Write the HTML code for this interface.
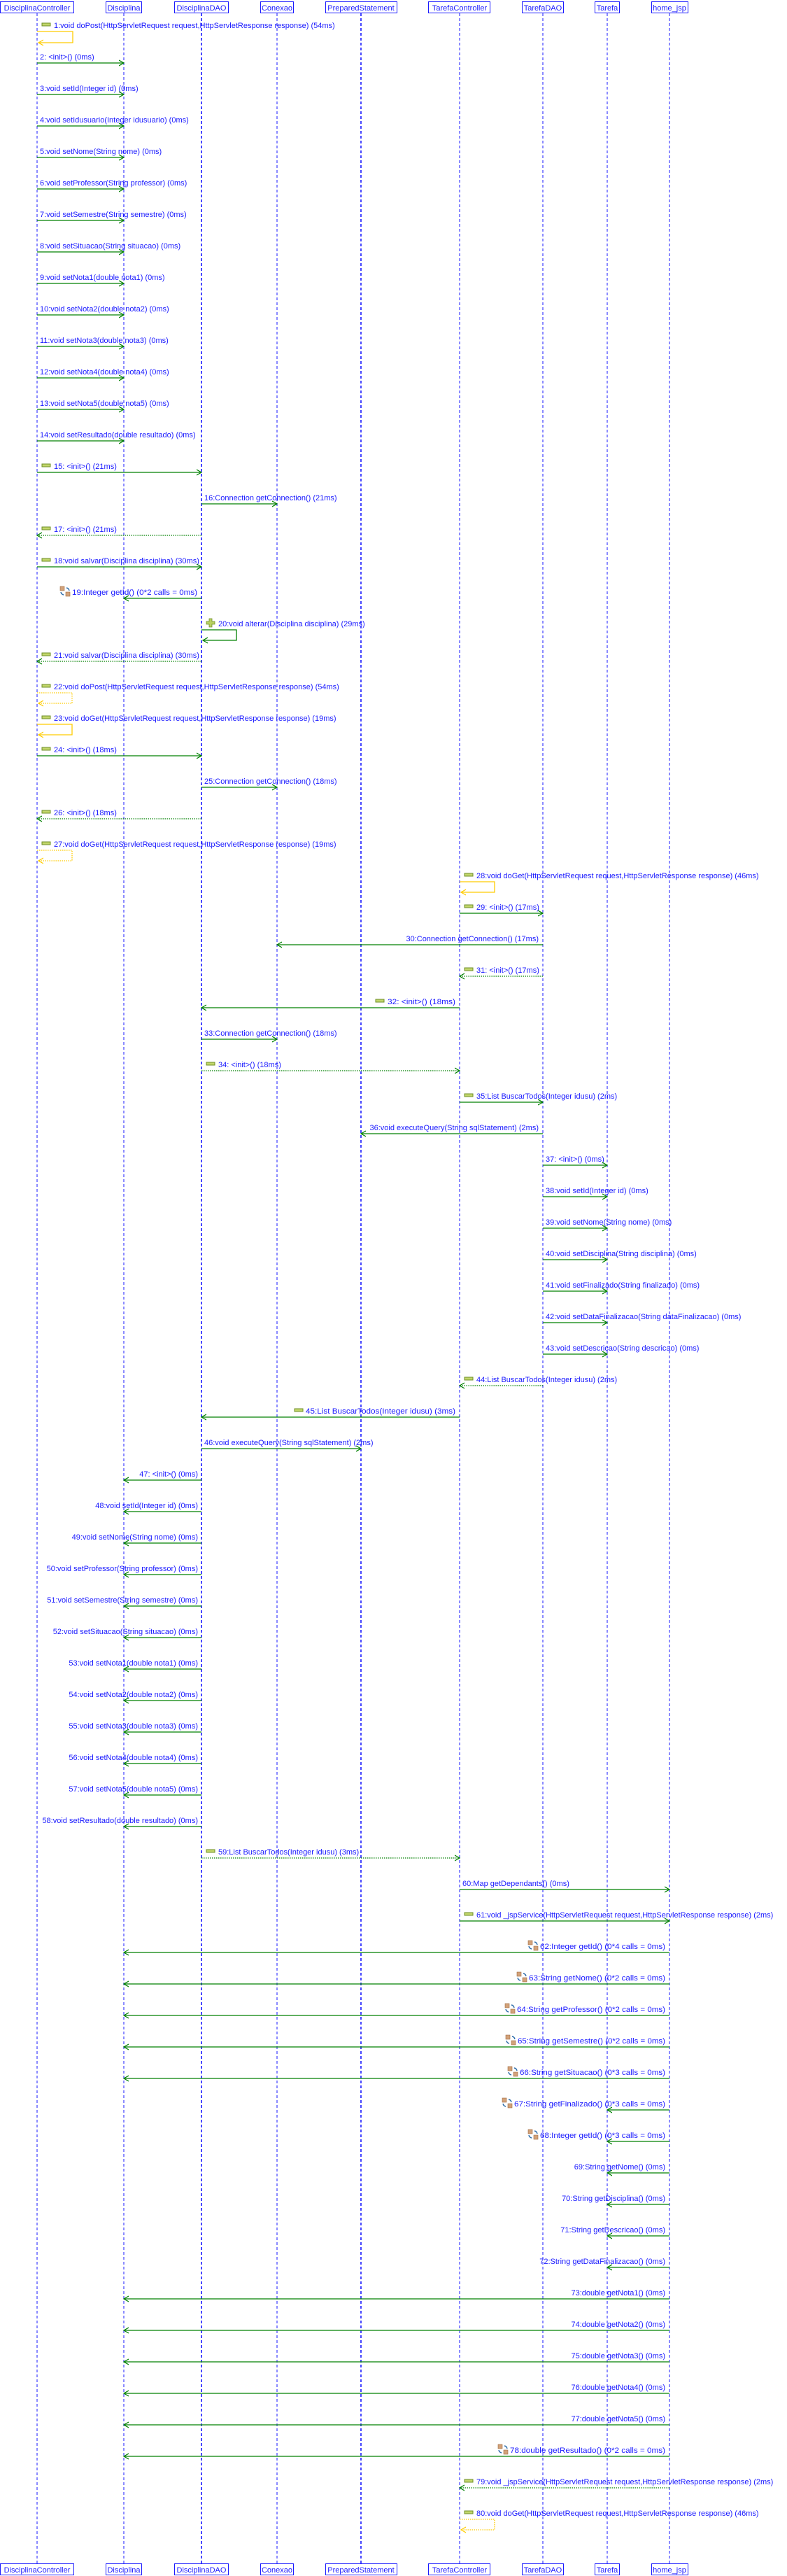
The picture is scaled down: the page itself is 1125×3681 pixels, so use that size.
<!DOCTYPE html>
<html><head><meta charset="utf-8"><style>
html,body{margin:0;padding:0;background:#fff;}
svg{display:block;}
text{font-family:"Liberation Sans",sans-serif;font-size:11px;fill:#1a1aff;}
.ll{stroke:#1a1aff;stroke-width:1;stroke-dasharray:4 3;}
.llb{stroke:#1a1aff;stroke-width:1.6;stroke-dasharray:4 3;}
.hb{fill:#fff;stroke:#1a1aff;stroke-width:1;}
.s{stroke:#008000;stroke-width:1.3;fill:none;marker-end:url(#g);}
.d{stroke:#008000;stroke-width:1.3;fill:none;stroke-dasharray:1.5 1.5;marker-end:url(#g);}
.y{stroke:#ffcc00;stroke-width:1.3;fill:none;marker-end:url(#yy);}
.yd{stroke:#ffcc00;stroke-width:1.3;fill:none;stroke-dasharray:1.5 1.5;marker-end:url(#yy);}
.gl{stroke:#008000;stroke-width:1.3;fill:none;marker-end:url(#g);}
</style></head><body>
<svg width="1125" height="3681" viewBox="0 0 1125 3681" xmlns="http://www.w3.org/2000/svg">
<defs>
<marker id="g" markerWidth="9" markerHeight="10" refX="7" refY="5" orient="auto" markerUnits="userSpaceOnUse"><path d="M0,1 L7,5 L0,9" fill="none" stroke="#008000" stroke-width="1.2"/></marker>
<marker id="yy" markerWidth="9" markerHeight="10" refX="7" refY="5" orient="auto" markerUnits="userSpaceOnUse"><path d="M0,1 L7,5 L0,9" fill="none" stroke="#ffcc00" stroke-width="1.2"/></marker>
<g id="bar"><rect x="0" y="0" width="12" height="4" fill="#c2d66a" stroke="#6f8f2a" stroke-width="1"/></g>
<g id="rf"><rect x="0" y="0" width="6" height="6" fill="#d2a27a" stroke="#a06a40" stroke-width="0.6"/><rect x="8" y="8" width="6" height="6" fill="#d2a27a" stroke="#a06a40" stroke-width="0.6"/><path d="M9,2 A5,5 0 0 1 13,6 M1,8 A5,5 0 0 0 5,12" fill="none" stroke="#2a6aa8" stroke-width="1.4"/></g>
<g id="pl"><path d="M4,0 H8 V4 H12 V8 H8 V12 H4 V8 H0 V4 H4 Z" fill="#b8d060" stroke="#6f8f2a" stroke-width="0.8"/></g>
</defs>

<line class="ll" x1="53" y1="19" x2="53" y2="3663"/>
<line class="ll" x1="177" y1="19" x2="177" y2="3663"/>
<line class="llb" x1="288" y1="19" x2="288" y2="3663"/>
<line class="ll" x1="396" y1="19" x2="396" y2="3663"/>
<line class="llb" x1="516" y1="19" x2="516" y2="3663"/>
<line class="ll" x1="657" y1="19" x2="657" y2="3663"/>
<line class="ll" x1="776" y1="19" x2="776" y2="3663"/>
<line class="ll" x1="868" y1="19" x2="868" y2="3663"/>
<line class="ll" x1="957" y1="19" x2="957" y2="3663"/>

<g>
<rect class="hb" x="0.5" y="2.5" width="105" height="16"/><text x="53" y="15" text-anchor="middle">DisciplinaController</text>
<rect class="hb" x="151.5" y="2.5" width="51" height="16"/><text x="177" y="15" text-anchor="middle">Disciplina</text>
<rect class="hb" x="249.5" y="2.5" width="77" height="16"/><text x="288" y="15" text-anchor="middle">DisciplinaDAO</text>
<rect class="hb" x="372.5" y="2.5" width="47" height="16"/><text x="396" y="15" text-anchor="middle">Conexao</text>
<rect class="hb" x="465.5" y="2.5" width="102" height="16"/><text x="516" y="15" text-anchor="middle">PreparedStatement</text>
<rect class="hb" x="612.5" y="2.5" width="88" height="16"/><text x="657" y="15" text-anchor="middle">TarefaController</text>
<rect class="hb" x="746.5" y="2.5" width="59" height="16"/><text x="776" y="15" text-anchor="middle">TarefaDAO</text>
<rect class="hb" x="850.5" y="2.5" width="35" height="16"/><text x="868" y="15" text-anchor="middle">Tarefa</text>
<rect class="hb" x="931.5" y="2.5" width="52" height="16"/><text x="957" y="15" text-anchor="middle">home_jsp</text>
</g>
<g transform="translate(0,3661)">
<rect class="hb" x="0.5" y="2.5" width="105" height="16"/><text x="53" y="15" text-anchor="middle">DisciplinaController</text>
<rect class="hb" x="151.5" y="2.5" width="51" height="16"/><text x="177" y="15" text-anchor="middle">Disciplina</text>
<rect class="hb" x="249.5" y="2.5" width="77" height="16"/><text x="288" y="15" text-anchor="middle">DisciplinaDAO</text>
<rect class="hb" x="372.5" y="2.5" width="47" height="16"/><text x="396" y="15" text-anchor="middle">Conexao</text>
<rect class="hb" x="465.5" y="2.5" width="102" height="16"/><text x="516" y="15" text-anchor="middle">PreparedStatement</text>
<rect class="hb" x="612.5" y="2.5" width="88" height="16"/><text x="657" y="15" text-anchor="middle">TarefaController</text>
<rect class="hb" x="746.5" y="2.5" width="59" height="16"/><text x="776" y="15" text-anchor="middle">TarefaDAO</text>
<rect class="hb" x="850.5" y="2.5" width="35" height="16"/><text x="868" y="15" text-anchor="middle">Tarefa</text>
<rect class="hb" x="931.5" y="2.5" width="52" height="16"/><text x="957" y="15" text-anchor="middle">home_jsp</text>
</g>

<use href="#bar" x="60" y="33"/><text x="77" y="40">1:void doPost(HttpServletRequest request,HttpServletResponse response) (54ms)</text>
<path class="y" d="M53,45 H104 V61 H55"/>
<text x="57" y="85">2: &lt;init&gt;() (0ms)</text><line class="s" x1="53" y1="90" x2="177" y2="90"/>
<text x="57" y="130">3:void setId(Integer id) (0ms)</text><line class="s" x1="53" y1="135" x2="177" y2="135"/>
<text x="57" y="175">4:void setIdusuario(Integer idusuario) (0ms)</text><line class="s" x1="53" y1="180" x2="177" y2="180"/>
<text x="57" y="220">5:void setNome(String nome) (0ms)</text><line class="s" x1="53" y1="225" x2="177" y2="225"/>
<text x="57" y="265">6:void setProfessor(String professor) (0ms)</text><line class="s" x1="53" y1="270" x2="177" y2="270"/>
<text x="57" y="310">7:void setSemestre(String semestre) (0ms)</text><line class="s" x1="53" y1="315" x2="177" y2="315"/>
<text x="57" y="355">8:void setSituacao(String situacao) (0ms)</text><line class="s" x1="53" y1="360" x2="177" y2="360"/>
<text x="57" y="400">9:void setNota1(double nota1) (0ms)</text><line class="s" x1="53" y1="405" x2="177" y2="405"/>
<text x="57" y="445">10:void setNota2(double nota2) (0ms)</text><line class="s" x1="53" y1="450" x2="177" y2="450"/>
<text x="57" y="490">11:void setNota3(double nota3) (0ms)</text><line class="s" x1="53" y1="495" x2="177" y2="495"/>
<text x="57" y="535">12:void setNota4(double nota4) (0ms)</text><line class="s" x1="53" y1="540" x2="177" y2="540"/>
<text x="57" y="580">13:void setNota5(double nota5) (0ms)</text><line class="s" x1="53" y1="585" x2="177" y2="585"/>
<text x="57" y="625">14:void setResultado(double resultado) (0ms)</text><line class="s" x1="53" y1="630" x2="177" y2="630"/>
<use href="#bar" x="60" y="663"/><text x="77" y="670">15: &lt;init&gt;() (21ms)</text><line class="s" x1="53" y1="675" x2="288" y2="675"/>
<text x="292" y="715">16:Connection getConnection() (21ms)</text><line class="s" x1="288" y1="720" x2="396" y2="720"/>
<use href="#bar" x="60" y="753"/><text x="77" y="760">17: &lt;init&gt;() (21ms)</text><line class="d" x1="288" y1="765" x2="53" y2="765"/>
<use href="#bar" x="60" y="798"/><text x="77" y="805">18:void salvar(Disciplina disciplina) (30ms)</text><line class="s" x1="53" y1="810" x2="288" y2="810"/>
<use href="#rf" x="86" y="838"/><text x="103" y="850" textLength="179" lengthAdjust="spacingAndGlyphs">19:Integer getId() (0*2 calls = 0ms)</text><line class="s" x1="288" y1="855" x2="177" y2="855"/>
<use href="#pl" x="295" y="884"/><text x="312" y="895">20:void alterar(Disciplina disciplina) (29ms)</text>
<path class="gl" d="M288,900 H338 V915 H290"/>
<use href="#bar" x="60" y="933"/><text x="77" y="940">21:void salvar(Disciplina disciplina) (30ms)</text><line class="d" x1="288" y1="945" x2="53" y2="945"/>
<use href="#bar" x="60" y="978"/><text x="77" y="985">22:void doPost(HttpServletRequest request,HttpServletResponse response) (54ms)</text>
<path class="yd" d="M53,990 H103 V1005 H55"/>
<use href="#bar" x="60" y="1023"/><text x="77" y="1030">23:void doGet(HttpServletRequest request,HttpServletResponse response) (19ms)</text>
<path class="y" d="M53,1035 H103 V1050 H55"/>
<use href="#bar" x="60" y="1068"/><text x="77" y="1075">24: &lt;init&gt;() (18ms)</text><line class="s" x1="53" y1="1080" x2="288" y2="1080"/>
<text x="292" y="1120">25:Connection getConnection() (18ms)</text><line class="s" x1="288" y1="1125" x2="396" y2="1125"/>
<use href="#bar" x="60" y="1158"/><text x="77" y="1165">26: &lt;init&gt;() (18ms)</text><line class="d" x1="288" y1="1170" x2="53" y2="1170"/>
<use href="#bar" x="60" y="1203"/><text x="77" y="1210">27:void doGet(HttpServletRequest request,HttpServletResponse response) (19ms)</text>
<path class="yd" d="M53,1215 H103 V1230 H55"/>
<use href="#bar" x="664" y="1248"/><text x="681" y="1255">28:void doGet(HttpServletRequest request,HttpServletResponse response) (46ms)</text>
<path class="y" d="M657,1260 H707 V1275 H659"/>
<use href="#bar" x="664" y="1293"/><text x="681" y="1300">29: &lt;init&gt;() (17ms)</text><line class="s" x1="657" y1="1305" x2="776" y2="1305"/>
<text x="770" y="1345" text-anchor="end">30:Connection getConnection() (17ms)</text><line class="s" x1="776" y1="1350" x2="396" y2="1350"/>
<use href="#bar" x="664" y="1383"/><text x="681" y="1390">31: &lt;init&gt;() (17ms)</text><line class="d" x1="776" y1="1395" x2="657" y2="1395"/>
<use href="#bar" x="537" y="1428"/><text x="554" y="1435" textLength="97" lengthAdjust="spacingAndGlyphs">32: &lt;init&gt;() (18ms)</text><line class="s" x1="657" y1="1440" x2="288" y2="1440"/>
<text x="292" y="1480">33:Connection getConnection() (18ms)</text><line class="s" x1="288" y1="1485" x2="396" y2="1485"/>
<use href="#bar" x="295" y="1518"/><text x="312" y="1525">34: &lt;init&gt;() (18ms)</text><line class="d" x1="288" y1="1530" x2="657" y2="1530"/>
<use href="#bar" x="664" y="1563"/><text x="681" y="1570">35:List BuscarTodos(Integer idusu) (2ms)</text><line class="s" x1="657" y1="1575" x2="776" y2="1575"/>
<text x="770" y="1615" text-anchor="end">36:void executeQuery(String sqlStatement) (2ms)</text><line class="s" x1="776" y1="1620" x2="516" y2="1620"/>
<text x="780" y="1660">37: &lt;init&gt;() (0ms)</text><line class="s" x1="776" y1="1665" x2="868" y2="1665"/>
<text x="780" y="1705">38:void setId(Integer id) (0ms)</text><line class="s" x1="776" y1="1710" x2="868" y2="1710"/>
<text x="780" y="1750">39:void setNome(String nome) (0ms)</text><line class="s" x1="776" y1="1755" x2="868" y2="1755"/>
<text x="780" y="1795">40:void setDisciplina(String disciplina) (0ms)</text><line class="s" x1="776" y1="1800" x2="868" y2="1800"/>
<text x="780" y="1840">41:void setFinalizado(String finalizado) (0ms)</text><line class="s" x1="776" y1="1845" x2="868" y2="1845"/>
<text x="780" y="1885">42:void setDataFinalizacao(String dataFinalizacao) (0ms)</text><line class="s" x1="776" y1="1890" x2="868" y2="1890"/>
<text x="780" y="1930">43:void setDescricao(String descricao) (0ms)</text><line class="s" x1="776" y1="1935" x2="868" y2="1935"/>
<use href="#bar" x="664" y="1968"/><text x="681" y="1975">44:List BuscarTodos(Integer idusu) (2ms)</text><line class="d" x1="776" y1="1980" x2="657" y2="1980"/>
<use href="#bar" x="421" y="2013"/><text x="437" y="2020" textLength="214" lengthAdjust="spacingAndGlyphs">45:List BuscarTodos(Integer idusu) (3ms)</text><line class="s" x1="657" y1="2025" x2="288" y2="2025"/>
<text x="292" y="2065">46:void executeQuery(String sqlStatement) (2ms)</text><line class="s" x1="288" y1="2070" x2="516" y2="2070"/>
<text x="283" y="2110" text-anchor="end">47: &lt;init&gt;() (0ms)</text><line class="s" x1="288" y1="2115" x2="177" y2="2115"/>
<text x="283" y="2155" text-anchor="end">48:void setId(Integer id) (0ms)</text><line class="s" x1="288" y1="2160" x2="177" y2="2160"/>
<text x="283" y="2200" text-anchor="end">49:void setNome(String nome) (0ms)</text><line class="s" x1="288" y1="2205" x2="177" y2="2205"/>
<text x="283" y="2245" text-anchor="end">50:void setProfessor(String professor) (0ms)</text><line class="s" x1="288" y1="2250" x2="177" y2="2250"/>
<text x="283" y="2290" text-anchor="end">51:void setSemestre(String semestre) (0ms)</text><line class="s" x1="288" y1="2295" x2="177" y2="2295"/>
<text x="283" y="2335" text-anchor="end">52:void setSituacao(String situacao) (0ms)</text><line class="s" x1="288" y1="2340" x2="177" y2="2340"/>
<text x="283" y="2380" text-anchor="end">53:void setNota1(double nota1) (0ms)</text><line class="s" x1="288" y1="2385" x2="177" y2="2385"/>
<text x="283" y="2425" text-anchor="end">54:void setNota2(double nota2) (0ms)</text><line class="s" x1="288" y1="2430" x2="177" y2="2430"/>
<text x="283" y="2470" text-anchor="end">55:void setNota3(double nota3) (0ms)</text><line class="s" x1="288" y1="2475" x2="177" y2="2475"/>
<text x="283" y="2515" text-anchor="end">56:void setNota4(double nota4) (0ms)</text><line class="s" x1="288" y1="2520" x2="177" y2="2520"/>
<text x="283" y="2560" text-anchor="end">57:void setNota5(double nota5) (0ms)</text><line class="s" x1="288" y1="2565" x2="177" y2="2565"/>
<text x="283" y="2605" text-anchor="end">58:void setResultado(double resultado) (0ms)</text><line class="s" x1="288" y1="2610" x2="177" y2="2610"/>
<use href="#bar" x="295" y="2643"/><text x="312" y="2650">59:List BuscarTodos(Integer idusu) (3ms)</text><line class="d" x1="288" y1="2655" x2="657" y2="2655"/>
<text x="661" y="2695">60:Map getDependants() (0ms)</text><line class="s" x1="657" y1="2700" x2="957" y2="2700"/>
<use href="#bar" x="664" y="2733"/><text x="681" y="2740">61:void _jspService(HttpServletRequest request,HttpServletResponse response) (2ms)</text><line class="s" x1="657" y1="2745" x2="957" y2="2745"/>
<use href="#rf" x="755" y="2773"/><text x="772" y="2785" textLength="179" lengthAdjust="spacingAndGlyphs">62:Integer getId() (0*4 calls = 0ms)</text><line class="s" x1="957" y1="2790" x2="177" y2="2790"/>
<use href="#rf" x="739" y="2818"/><text x="756" y="2830" textLength="195" lengthAdjust="spacingAndGlyphs">63:String getNome() (0*2 calls = 0ms)</text><line class="s" x1="957" y1="2835" x2="177" y2="2835"/>
<use href="#rf" x="722" y="2863"/><text x="739" y="2875" textLength="212" lengthAdjust="spacingAndGlyphs">64:String getProfessor() (0*2 calls = 0ms)</text><line class="s" x1="957" y1="2880" x2="177" y2="2880"/>
<use href="#rf" x="723" y="2908"/><text x="740" y="2920" textLength="211" lengthAdjust="spacingAndGlyphs">65:String getSemestre() (0*2 calls = 0ms)</text><line class="s" x1="957" y1="2925" x2="177" y2="2925"/>
<use href="#rf" x="726" y="2953"/><text x="743" y="2965" textLength="208" lengthAdjust="spacingAndGlyphs">66:String getSituacao() (0*3 calls = 0ms)</text><line class="s" x1="957" y1="2970" x2="177" y2="2970"/>
<use href="#rf" x="718" y="2998"/><text x="735" y="3010" textLength="216" lengthAdjust="spacingAndGlyphs">67:String getFinalizado() (0*3 calls = 0ms)</text><line class="s" x1="957" y1="3015" x2="868" y2="3015"/>
<use href="#rf" x="755" y="3043"/><text x="772" y="3055" textLength="179" lengthAdjust="spacingAndGlyphs">68:Integer getId() (0*3 calls = 0ms)</text><line class="s" x1="957" y1="3060" x2="868" y2="3060"/>
<text x="951" y="3100" text-anchor="end">69:String getNome() (0ms)</text><line class="s" x1="957" y1="3105" x2="868" y2="3105"/>
<text x="951" y="3145" text-anchor="end">70:String getDisciplina() (0ms)</text><line class="s" x1="957" y1="3150" x2="868" y2="3150"/>
<text x="951" y="3190" text-anchor="end">71:String getDescricao() (0ms)</text><line class="s" x1="957" y1="3195" x2="868" y2="3195"/>
<text x="951" y="3235" text-anchor="end">72:String getDataFinalizacao() (0ms)</text><line class="s" x1="957" y1="3240" x2="868" y2="3240"/>
<text x="951" y="3280" text-anchor="end">73:double getNota1() (0ms)</text><line class="s" x1="957" y1="3285" x2="177" y2="3285"/>
<text x="951" y="3325" text-anchor="end">74:double getNota2() (0ms)</text><line class="s" x1="957" y1="3330" x2="177" y2="3330"/>
<text x="951" y="3370" text-anchor="end">75:double getNota3() (0ms)</text><line class="s" x1="957" y1="3375" x2="177" y2="3375"/>
<text x="951" y="3415" text-anchor="end">76:double getNota4() (0ms)</text><line class="s" x1="957" y1="3420" x2="177" y2="3420"/>
<text x="951" y="3460" text-anchor="end">77:double getNota5() (0ms)</text><line class="s" x1="957" y1="3465" x2="177" y2="3465"/>
<use href="#rf" x="712" y="3493"/><text x="729" y="3505" textLength="222" lengthAdjust="spacingAndGlyphs">78:double getResultado() (0*2 calls = 0ms)</text><line class="s" x1="957" y1="3510" x2="177" y2="3510"/>
<use href="#bar" x="664" y="3543"/><text x="681" y="3550">79:void _jspService(HttpServletRequest request,HttpServletResponse response) (2ms)</text><line class="d" x1="957" y1="3555" x2="657" y2="3555"/>
<use href="#bar" x="664" y="3588"/><text x="681" y="3595">80:void doGet(HttpServletRequest request,HttpServletResponse response) (46ms)</text>
<path class="yd" d="M657,3600 H707 V3615 H659"/>
</svg>
</body></html>
